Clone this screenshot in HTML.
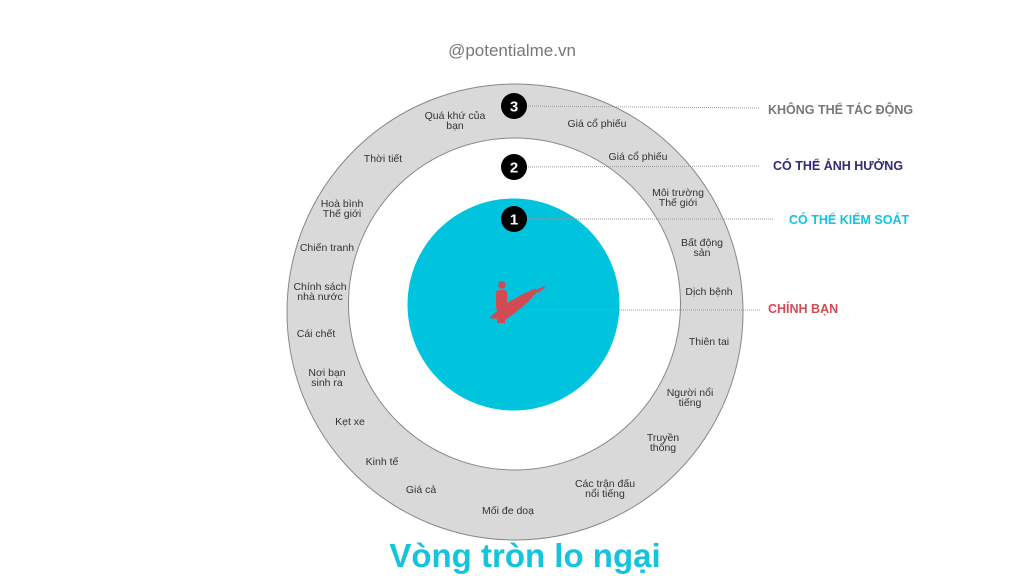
<!DOCTYPE html>
<html><head><meta charset="utf-8"><style>
html,body{margin:0;padding:0;background:#fff;}
svg{display:block;}
.l{font-family:"Liberation Sans","DejaVu Sans",sans-serif;font-size:10.5px;fill:#333;text-anchor:middle;}
.h{font-family:"Liberation Sans","DejaVu Sans",sans-serif;font-size:12.5px;font-weight:bold;}
.n{font-family:"Liberation Sans",sans-serif;font-size:15px;font-weight:bold;fill:#fff;text-anchor:middle;}
</style></head><body>
<svg width="1024" height="576" viewBox="0 0 1024 576">
<text x="512" y="56" text-anchor="middle" font-family="Liberation Sans,sans-serif" font-size="17" fill="#777">@potentialme.vn</text>
<circle cx="515" cy="312" r="228" fill="#d9d9d9" stroke="#888" stroke-width="1"/>
<circle cx="514.5" cy="304" r="166" fill="#fff" stroke="#888" stroke-width="1"/>
<circle cx="513.5" cy="304.5" r="106" fill="#00c4dd"/>
<g stroke="#999" stroke-width="1" stroke-dasharray="1,1" fill="none">
<line x1="520" y1="106" x2="760" y2="108"/>
<line x1="520" y1="167" x2="760" y2="166"/>
<line x1="520" y1="219" x2="774" y2="219"/>
<line x1="525" y1="310" x2="760" y2="310"/>
</g>
<circle cx="514" cy="106" r="13" fill="#000"/><text class="n" x="514" y="111.5">3</text>
<circle cx="514" cy="167" r="13" fill="#000"/><text class="n" x="514" y="172.5">2</text>
<circle cx="514" cy="219" r="13" fill="#000"/><text class="n" x="514" y="224.5">1</text>
<g fill="#d14b55">
<circle cx="502" cy="285" r="3.8"/>
<rect x="496" y="290" width="11" height="20" rx="3"/>
<rect x="497" y="305" width="8" height="18"/>
<path d="M489 318 L505 304 L525 293 L534 290 L536 293 L528 302 L515 313 L505 320 Z"/>
<ellipse cx="533" cy="292" rx="5" ry="2.5" transform="rotate(-25 533 292)"/>
<path d="M536 290 L544 286 L545 288 L538 293 Z"/>
</g>
<text class="h" x="768" y="114" fill="#777">KHÔNG THỂ TÁC ĐỘNG</text>
<text class="h" x="773" y="170" fill="#2e2a7c">CÓ THỂ ẢNH HƯỞNG</text>
<text class="h" x="789" y="224" fill="#14c3dd">CÓ THỂ KIỂM SOÁT</text>
<text class="h" x="768" y="313" fill="#d44a55">CHÍNH BẠN</text>
<g class="l">
<text class="l" x="455" y="119">Quá khứ của</text><text class="l" x="455" y="129">bạn</text>
<text class="l" x="597" y="127">Giá cổ phiếu</text>
<text class="l" x="383" y="162">Thời tiết</text>
<text class="l" x="638" y="160">Giá cổ phiếu</text>
<text class="l" x="678" y="196">Môi trường</text><text class="l" x="678" y="206">Thế giới</text>
<text class="l" x="342" y="207">Hoà bình</text><text class="l" x="342" y="217">Thế giới</text>
<text class="l" x="327" y="251">Chiến tranh</text>
<text class="l" x="702" y="246">Bất động</text><text class="l" x="702" y="256">sản</text>
<text class="l" x="320" y="290">Chính sách</text><text class="l" x="320" y="300">nhà nước</text>
<text class="l" x="709" y="295">Dịch bệnh</text>
<text class="l" x="316" y="337">Cái chết</text>
<text class="l" x="709" y="345">Thiên tai</text>
<text class="l" x="327" y="376">Nơi bạn</text><text class="l" x="327" y="386">sinh ra</text>
<text class="l" x="690" y="396">Người nổi</text><text class="l" x="690" y="406">tiếng</text>
<text class="l" x="350" y="425">Kẹt xe</text>
<text class="l" x="663" y="441">Truyền</text><text class="l" x="663" y="451">thống</text>
<text class="l" x="382" y="465">Kinh tế</text>
<text class="l" x="421" y="493">Giá cả</text>
<text class="l" x="605" y="487">Các trận đấu</text><text class="l" x="605" y="497">nổi tiếng</text>
<text class="l" x="508" y="514">Mối đe doạ</text>
</g>
<text x="525" y="567" text-anchor="middle" font-family="Liberation Sans,sans-serif" font-size="33" font-weight="bold" fill="#14c3dd">Vòng tròn lo ngại</text>
</svg>
</body></html>
